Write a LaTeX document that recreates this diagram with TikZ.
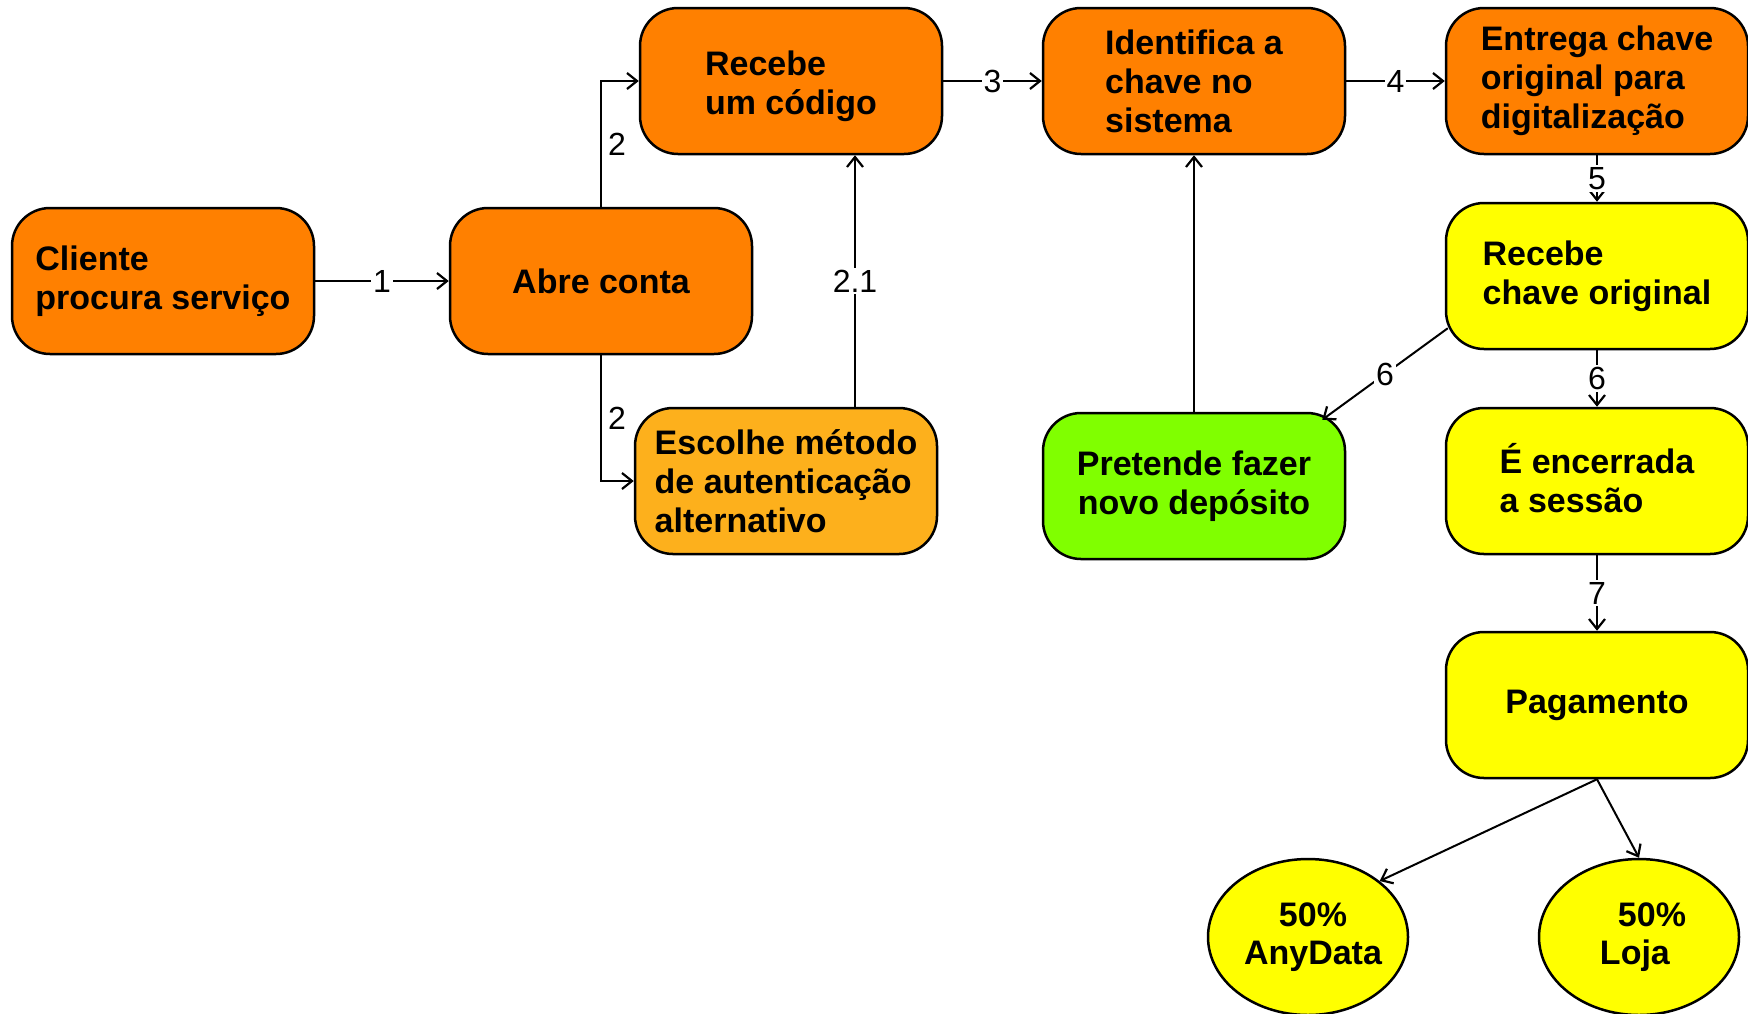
\documentclass[tikz,border=0pt]{standalone}
\usepackage{fontspec}
\setmainfont{Liberation Sans}
\usetikzlibrary{arrows.meta,shapes.geometric,calc}
\definecolor{orng}{RGB}{255,128,0}
\definecolor{lorng}{RGB}{253,176,28}
\definecolor{yllw}{RGB}{255,255,0}
\definecolor{grn}{RGB}{128,255,0}
\begin{document}
\begin{tikzpicture}[x=1pt,y=-1pt,
 box/.style={draw=black, line width=2.5pt, rounded corners=38pt, minimum width=302pt, minimum height=146pt, font=\bfseries\fontsize{34}{39}\selectfont, align=left, inner sep=0pt},
 ell/.style={draw=black, ellipse, line width=2.5pt, fill=yllw, minimum width=200pt, minimum height=156pt, inner sep=0pt},
 elltext/.style={font=\bfseries\fontsize{34}{38}\selectfont, inner sep=0pt},
 arr/.style={line width=2pt, -{Straight Barb[length=10pt,width=16pt,line width=2.2pt]}},
 lbl/.style={fill=white, inner sep=2pt, font=\fontsize{32}{32}\selectfont},
 sidelbl/.style={inner sep=6pt, font=\fontsize{32}{32}\selectfont}]
\useasboundingbox (0,0) rectangle (1748,1013);
\clip (0,0) rectangle (1748,1013);
\node[box, fill=orng] (cli) at (163,281) {Cliente\\procura serviço};
\node[box, fill=orng, align=center] (abre) at (601,281) {Abre conta};
\node[box, fill=orng] (rec) at (791,81) {\rule{0pt}{35pt}Recebe\\um código};
\node[box, fill=lorng] (esc) at (786,481) {Escolhe método\\de autenticação\\alternativo};
\node[box, fill=orng] (ide) at (1194,81) {Identifica a\\chave no\\sistema};
\node[box, fill=orng] (ent) at (1597,81) {Entrega chave\\original para\\digitalização};
\node[box, fill=yllw] (rcv) at (1597,276) {Recebe\\chave original};
\node[box, fill=grn, align=center] (pre) at (1194,486) {Pretende fazer\\novo depósito};
\node[box, fill=yllw] (enc) at (1597,481) {\smash{É} encerrada\\a sessão};
\node[box, fill=yllw, align=center] (pag) at (1597,705) {Pagamento};
\node[ell, label={[elltext, align=center, xshift=5pt]center:{50\%\\AnyData}}] (any) at (1308,937) {};
\node[ell, label={[elltext, align=left, xshift=4pt]center:{\hspace*{18pt}50\%\\Loja}}] (loj) at (1639,937) {};
\coordinate (x21) at (855,0);
\draw[arr] (cli) -- node[lbl]{1} (abre);
\draw[arr] (abre.north) |- node[pos=0.25, right, sidelbl]{2} (rec.west);
\draw[arr] (abre.south) |- node[pos=0.25, right, sidelbl]{2} (esc.west);
\draw[arr] (esc.north -| x21) -- node[lbl]{2.1} (rec.south -| x21);
\draw[arr] (rec) -- node[lbl]{3} (ide);
\draw[arr] (ide) -- node[lbl]{4} (ent);
\draw[arr] (ent) -- node[lbl]{5} (rcv);
\draw[arr] ($(rcv.south west)+(3,-22)$) -- node[lbl]{6} ($(pre.north east)+(-24,8)$);
\draw[arr] (rcv) -- node[lbl]{6} (enc);
\draw[arr] (enc) -- node[lbl]{7} (pag);
\draw[arr] (pre) -- (ide);
\draw[arr] (pag.south) -- (any.38);
\draw[arr] (pag.south) -- (loj.north);
\end{tikzpicture}
\end{document}
